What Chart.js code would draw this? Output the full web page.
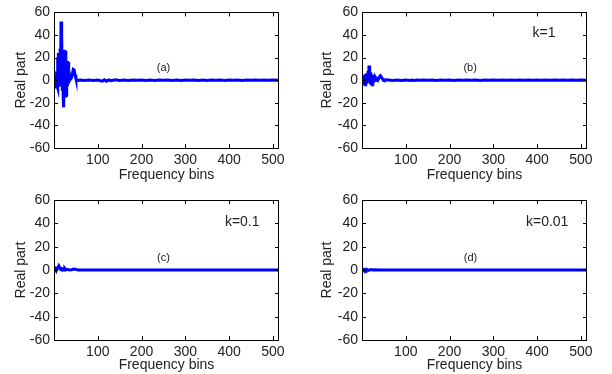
<!DOCTYPE html>
<html>
<head>
<meta charset="utf-8">
<script src="https://cdn.jsdelivr.net/npm/chart.js@4.4.1/dist/chart.umd.min.js"></script>
<style>
    body { margin: 0; background: #fff; }
    #wrap { position: relative; width: 612px; height: 374px; }
    canvas { position: absolute; }
</style>
</head>
<body>
<div id="wrap">
    <canvas id="chartA" width="306" height="185" style="left:0;top:0"></canvas>
    <canvas id="chartB" width="306" height="185" style="left:306px;top:0"></canvas>
    <canvas id="chartC" width="306" height="189" style="left:0;top:185px"></canvas>
    <canvas id="chartD" width="306" height="189" style="left:306px;top:185px"></canvas>
</div>
<script>
// tick labels
var xTicks = [100, 200, 300, 400, 500];
var yTicks = [-60, -40, -20, 0, 20, 40, 60];

// first bins (the oscillating part)
var headBinsA = [1, 2, 3, 4, 5, 6, 7, 8, 9, 10, 11, 12, 13, 14, 15, 16, 17, 18, 19, 20, 21, 22, 23, 24, 25, 26, 27, 28, 29, 30, 31, 32, 33, 34, 36, 38, 40, 42, 44, 46, 48, 50, 52, 55];
var headValsA = [0, 3, -4, 5, -6, 8, -5, 20, -7, 24, -6, 12, -3, 28, -5, 52, -3, 40, -8, 12, -15, -24, 5, 27, -10, 26, -15, -13, 14, 17, -5, 16, -3, 8, 3, 1, 2, 6, 9.5, 9, 5, 1.5, 0.3, -0.2];

var headBinsB = [1, 2, 3, 4, 5, 6, 7, 8, 9, 10, 11, 12, 13, 14, 15, 16, 17, 18, 19, 20, 21, 22, 23, 24, 25, 26, 27, 28, 29, 30, 32, 34, 36, 38, 40, 42, 44, 46, 48, 50, 55];
var headValsB = [0, 2, -2, 4, -3, 5, -4, 3, -2, 6, -3, 4, -2, 8, -1, 13, 2, 6, -2, 7, -3, 4, -4, 5, -4, 2, -2, 3, -1, 2, 0, 1, 0, 1.5, 3, 4, 3, 1.5, 0.5, 0, 0.3];

var headBinsC = [1, 3, 5, 7, 9, 11, 13, 15, 17, 19, 21, 23, 25, 27, 30, 35, 40, 45, 50, 55];
var headValsC = [0, 1, -0.5, 1.5, 2, 3.5, 2, 0.5, 1, 0, 0.8, 0, 1, 0, 0.5, 0, 0.2, 0.8, 0.5, 0];

var headBinsD = [1, 3, 5, 7, 9, 11, 13, 15, 20, 25, 30, 40, 50];
var headValsD = [0, 0.4, -0.5, 0.3, -0.3, 0.5, 0, -0.3, 0.4, 0, 0.2, 0, 0];

// remaining bins (nearly flat)
var tailBins = [60, 70, 80, 90, 100, 110, 115, 120, 125, 130, 140, 150, 160, 170, 180, 190, 200, 210, 220, 230, 240, 250, 260, 270, 280, 290, 300, 310, 320, 330, 340, 350, 360, 370, 380, 390, 400, 410, 420, 430, 440, 450, 460, 470, 480, 490, 500, 513];
var tailValsA = [0.2, -0.2, 0.1, -0.3, 0.2, -0.9, 0.3, -1, 0.2, -0.5, 0.3, -0.2, 0.1, -0.2, 0.2, -0.1, 0.1, -0.3, 0.1, -0.2, 0.2, -0.1, 0.2, -0.3, 0.1, -0.2, 0.2, -0.1, 0.2, -0.2, 0.1, -0.2, 0.2, -0.1, 0.1, -0.2, 0.2, -0.1, 0.1, -0.2, 0.1, -0.1, 0.2, -0.1, 0.1, 0, 0.1, 0];
var tailValsB = [0.2, -0.2, 0.1, -0.3, 0.2, -0.3, 0.1, -0.2, 0.2, -0.1, 0.2, -0.1, 0.1, -0.2, 0.1, -0.1, 0.1, -0.2, 0.1, -0.1, 0.2, -0.1, 0.1, -0.2, 0.1, -0.1, 0.1, -0.1, 0.1, -0.1, 0.1, -0.1, 0.1, -0.1, 0.1, -0.1, 0.1, -0.1, 0.1, -0.1, 0.1, -0.1, 0.1, -0.1, 0.1, 0, 0.1, 0];
var tailValsC = [0.1, -0.1, 0.1, 0, 0.1, -0.1, 0, 0.1, 0, -0.1, 0.1, 0, 0, 0.1, 0, -0.1, 0, 0.1, 0, 0, 0.1, 0, -0.1, 0, 0.1, 0, 0, 0.1, 0, -0.1, 0, 0, 0.1, 0, 0, -0.1, 0, 0.1, 0, 0, 0, 0.1, 0, 0, 0, 0, 0, 0];
var tailValsD = [0, 0, 0.1, 0, 0, -0.1, 0, 0, 0.1, 0, 0, 0, 0, 0, 0.1, 0, 0, 0, 0, 0, 0, 0, 0, 0.1, 0, 0, 0, 0, 0, 0, 0, 0, 0, 0, 0, 0, 0, 0, 0, 0, 0, 0, 0, 0, 0, 0, 0, 0];

function points(bins, vals) {
    return bins.map(function (b, i) { return { x: b, y: vals[i] }; });
}

var FONT = '"Liberation Sans", Arial, sans-serif';

// box round the plot area with inward ticks, plus the text labels
var boxPlugin = {
    id: 'box',
    afterDraw: function (chart) {
        var ctx = chart.ctx;
        var a = chart.chartArea;
        var xs = chart.scales.x, ys = chart.scales.y;
        ctx.save();
        ctx.strokeStyle = '#000';
        ctx.lineWidth = 1;
        ctx.strokeRect(Math.round(a.left) + 0.5, Math.round(a.top) + 0.5, Math.round(a.right - a.left) - 1, Math.round(a.bottom - a.top));
        ctx.beginPath();
        xTicks.forEach(function (v) {
            var px = Math.round(xs.getPixelForValue(v)) + 0.5;
            ctx.moveTo(px, a.bottom); ctx.lineTo(px, a.bottom - 4);
            ctx.moveTo(px, a.top); ctx.lineTo(px, a.top + 4);
        });
        yTicks.forEach(function (v) {
            var py = Math.round(ys.getPixelForValue(v)) + 0.5;
            ctx.moveTo(a.left, py); ctx.lineTo(a.left + 4, py);
            ctx.moveTo(a.right, py); ctx.lineTo(a.right - 4, py);
        });
        ctx.stroke();
        var notes = chart.options.plugins.box.notes || [];
        ctx.fillStyle = '#222';
        ctx.textAlign = 'center';
        ctx.textBaseline = 'middle';
        notes.forEach(function (n) {
            ctx.font = n.size + 'px ' + FONT;
            ctx.fillText(n.text, xs.getPixelForValue(n.x), ys.getPixelForValue(n.y));
        });
        ctx.restore();
    }
};

function makePanel(id, data, leftW, rightPad, topPad, xH, titleBottom, notes) {
    var ctx = document.getElementById(id).getContext('2d');
    new Chart(ctx, {
        type: 'line',
        data: {
            datasets: [{
                data: data,
                borderColor: '#0000ff',
                borderWidth: 3,
                pointRadius: 0,
                tension: 0,
                fill: false
            }]
        },
        options: {
            responsive: false,
            animation: false,
            layout: { padding: { left: 0, right: rightPad, top: topPad, bottom: 0 } },
            plugins: {
                legend: { display: false },
                tooltip: { enabled: false },
                box: { notes: notes }
            },
            scales: {
                x: {
                    type: 'linear',
                    min: 0,
                    max: 514,
                    afterBuildTicks: function (s) { s.ticks = xTicks.map(function (v) { return { value: v }; }); },
                    afterFit: function (s) { s.height = xH; },
                    grid: { display: false, drawTicks: false },
                    border: { display: false },
                    ticks: {
                        color: '#222',
                        padding: 4,
                        maxRotation: 0,
                        font: { family: FONT, size: 14 }
                    },
                    title: {
                        display: true,
                        text: 'Frequency bins',
                        color: '#222',
                        padding: { top: 0, bottom: titleBottom },
                        font: { family: FONT, size: 14 }
                    }
                },
                y: {
                    min: -60,
                    max: 60,
                    afterBuildTicks: function (s) { s.ticks = yTicks.map(function (v) { return { value: v }; }); },
                    afterFit: function (s) { s.width = leftW; },
                    grid: { display: false, drawTicks: false },
                    border: { display: false },
                    ticks: {
                        color: '#222',
                        padding: 4,
                        font: { family: FONT, size: 14 }
                    },
                    title: {
                        display: true,
                        text: 'Real part',
                        color: '#222',
                        padding: { top: 13, bottom: 0 },
                        font: { family: FONT, size: 14 }
                    }
                }
            }
        },
        plugins: [boxPlugin]
    });
}

makePanel('chartA', points(headBinsA.concat(tailBins), headValsA.concat(tailValsA)), 54, 27, 10, 37, 1,
    [{ text: '(a)', x: 250, y: 11, size: 11 }]);
makePanel('chartB', points(headBinsB.concat(tailBins), headValsB.concat(tailValsB)), 56, 25, 10, 37, 1,
    [{ text: '(b)', x: 247, y: 11, size: 11 }, { text: 'k=1', x: 416, y: 42, size: 14 }]);
makePanel('chartC', points(headBinsC.concat(tailBins), headValsC.concat(tailValsC)), 54, 27, 15, 34, 0,
    [{ text: '(c)', x: 250, y: 10, size: 11 }, { text: 'k=0.1', x: 430, y: 41, size: 14 }]);
makePanel('chartD', points(headBinsD.concat(tailBins), headValsD.concat(tailValsD)), 56, 25, 15, 34, 0,
    [{ text: '(d)', x: 248, y: 10, size: 11 }, { text: 'k=0.01', x: 423, y: 41, size: 14 }]);
</script>
</body>
</html>
